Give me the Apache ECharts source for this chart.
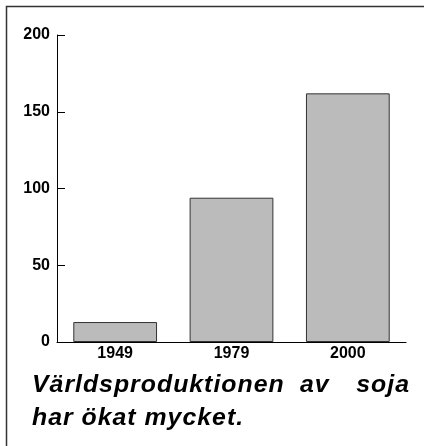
<!DOCTYPE html>
<html>
<head>
<meta charset="utf-8">
<script src="https://cdn.jsdelivr.net/npm/echarts@6/dist/echarts.min.js"></script>
<style>
  html, body { margin: 0; padding: 0; background: #fff; }
  #mychart { width: 424px; height: 446px; }
</style>
</head>
<body>
<div id="mychart"></div>
<script>
  // data
  var years = ['1949', '1979', '2000'];
  var production = [13, 94, 162];
  var yTicks = [0, 50, 100, 150, 200];
  var titleLine1 = ['Världsproduktionen', 'av', 'soja'];
  var titleLine2 = ['har', 'ökat', 'mycket.'];

  var font = '"Liberation Sans", Arial, sans-serif';
  var titleSize = 23;
  var stretch = 1.08;   // the original caption is set wide
  var letterSpacing = 1;

  var measureCtx = document.createElement('canvas').getContext('2d');
  measureCtx.font = 'italic bold ' + titleSize + 'px ' + font;

  function charW(ch) {
    return measureCtx.measureText(ch).width * stretch + letterSpacing;
  }
  function wordWidth(word) {
    var w = 0;
    for (var i = 0; i < word.length; i++) w += charW(word[i]);
    return w - letterSpacing;
  }

  function spacedWord(word, x, y) {
    var items = [];
    for (var i = 0; i < word.length; i++) {
      items.push({
        type: 'text',
        x: x,
        y: y,
        scaleX: stretch,
        silent: true,
        style: {
          text: word[i],
          fontFamily: font,
          fontSize: titleSize,
          fontWeight: 'bold',
          fontStyle: 'italic',
          fill: '#000',
          textVerticalAlign: 'top'
        }
      });
      x += charW(word[i]);
    }
    return items;
  }

  var titleGraphics = []
    .concat(spacedWord(titleLine1[0], 32, 374))
    .concat(spacedWord(titleLine1[1], 300, 374))
    .concat(spacedWord(titleLine1[2], 409 - wordWidth(titleLine1[2]), 374));

  var x2 = 32;
  titleLine2.forEach(function (w) {
    titleGraphics = titleGraphics.concat(spacedWord(w, x2, 407));
    x2 += wordWidth(w) + charW(' ') + letterSpacing;
  });

  var myChart = echarts.init(document.getElementById('mychart'));
  var opt = {
    animation: false,
    grid: {
      left: 57,
      right: 18,
      top: 35,
      bottom: 104
    },
    xAxis: {
      type: 'category',
      data: years,
      axisLine: { lineStyle: { color: '#000', width: 1 } },
      axisTick: { inside: true, length: 7, lineStyle: { color: '#000' } },
      axisLabel: {
        margin: 4,
        color: '#000',
        fontFamily: font,
        fontSize: 16,
        fontWeight: 'bold'
      }
    },
    yAxis: {
      type: 'value',
      min: yTicks[0],
      max: yTicks[yTicks.length - 1],
      interval: yTicks[1] - yTicks[0],
      splitLine: { show: false },
      axisLine: { show: true, lineStyle: { color: '#000', width: 1 } },
      axisTick: { show: true, inside: true, length: 8, lineStyle: { color: '#000' } },
      axisLabel: {
        margin: 7,
        color: '#000',
        fontFamily: font,
        fontSize: 16,
        fontWeight: 'bold'
      }
    },
    series: [{
      type: 'bar',
      data: production,
      barWidth: '72%',
      itemStyle: {
        color: '#bbbbbb',
        borderColor: '#333',
        borderWidth: 1
      }
    }],
    graphic: [
      {
        type: 'rect',
        shape: { x: 6.5, y: 6.5, width: 600, height: 600 },
        style: { fill: 'none', stroke: '#333', lineWidth: 1.5 },
        silent: true
      }
    ].concat(titleGraphics)
  };
  myChart.setOption(opt);

  window.addEventListener('resize', function () {
    myChart.resize();
  });
</script>
</body>
</html>
